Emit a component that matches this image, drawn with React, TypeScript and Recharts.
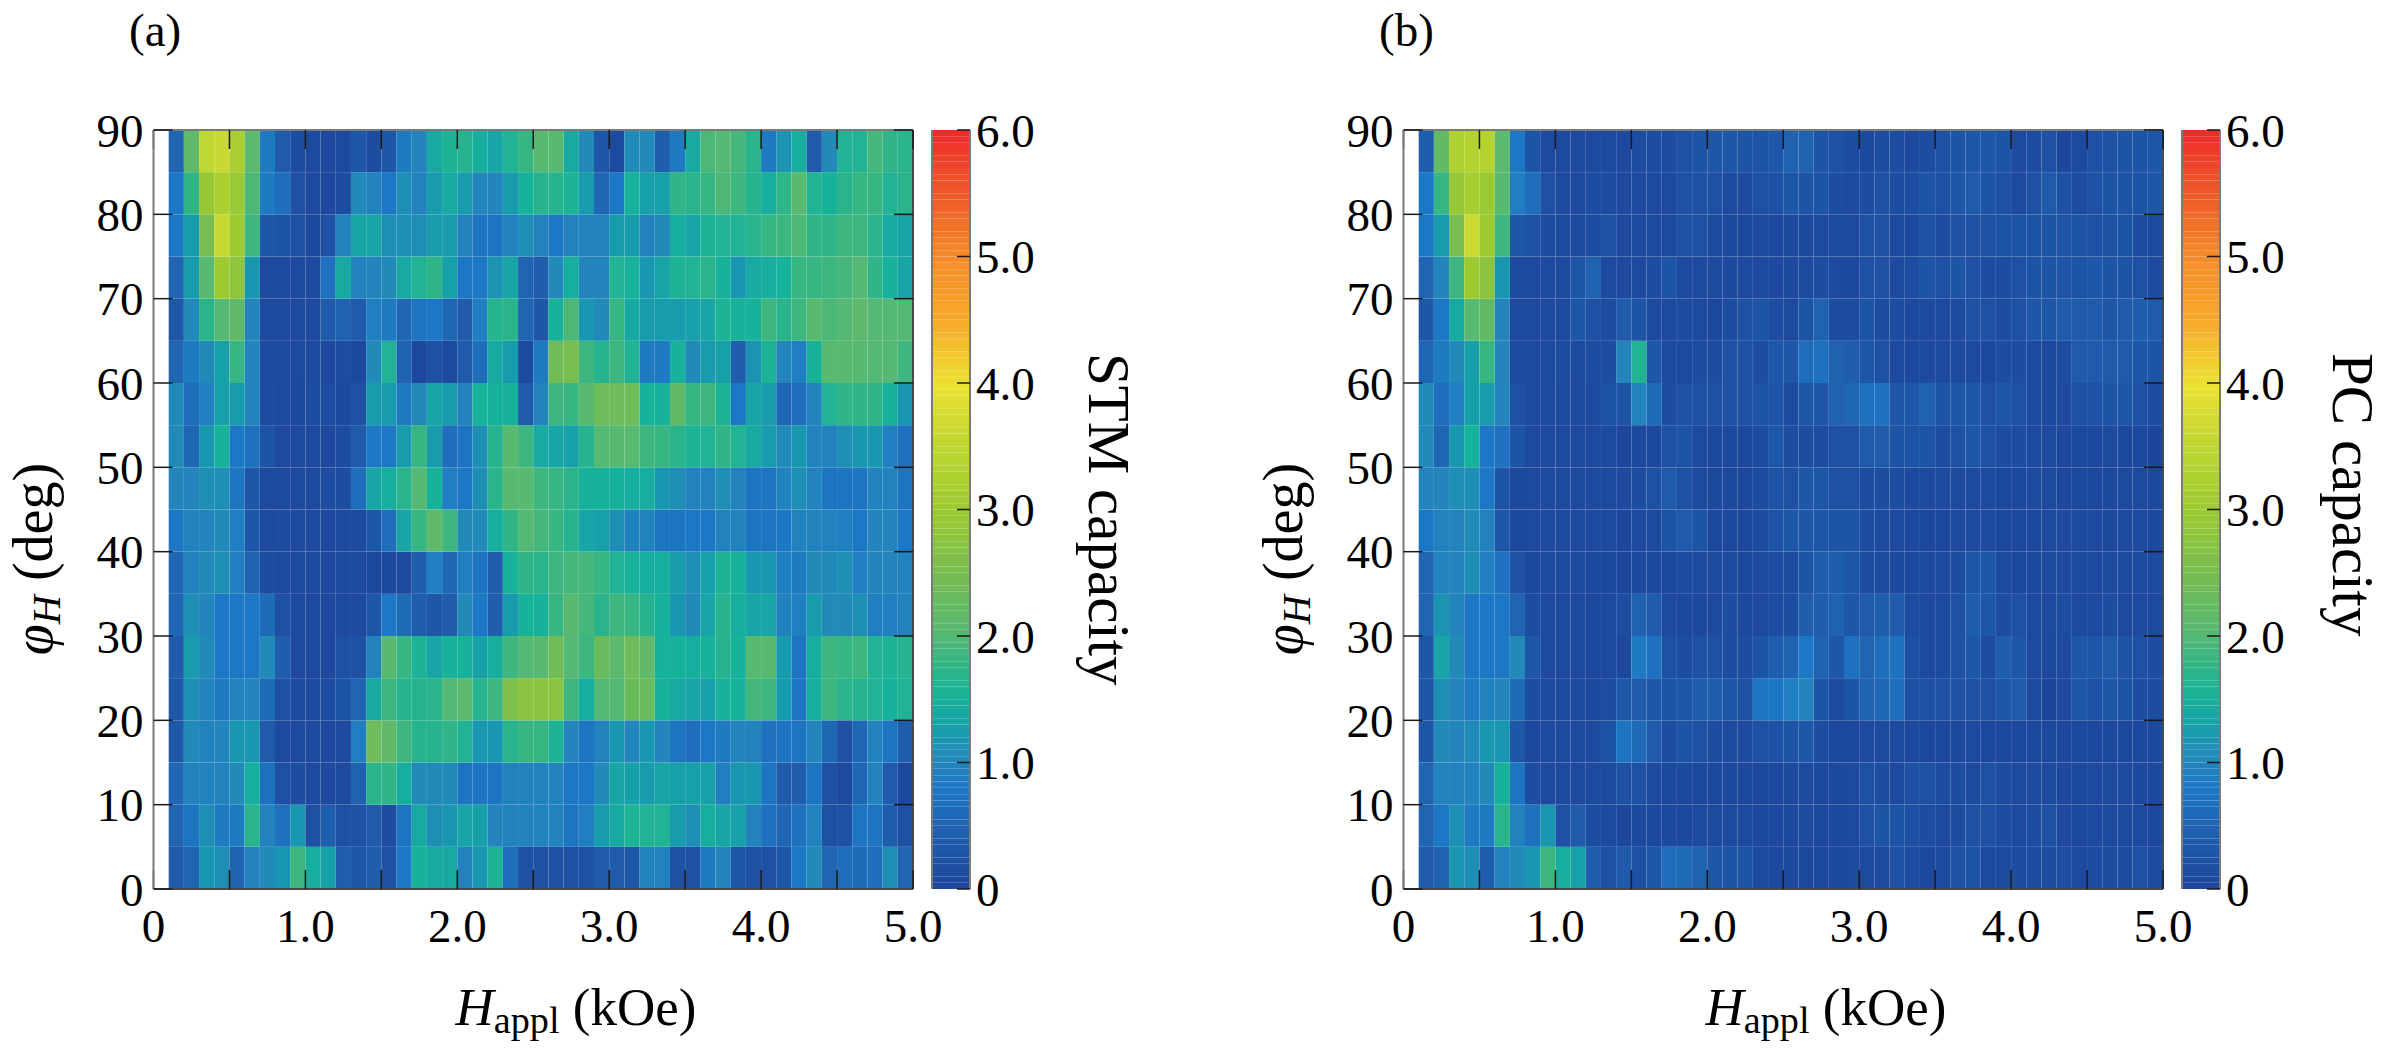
import React from 'react';
import { BarChart, Bar, XAxis, YAxis, Cell, ReferenceLine } from 'recharts';

// field bins, centre of each column (kOe)
const fieldBins = [
  0.15, 0.25, 0.35, 0.45, 0.55, 0.65, 0.75, 0.85, 0.95, 1.05, 1.15, 1.25, 1.35, 1.45, 1.55, 1.65, 1.75,
  1.85, 1.95, 2.05, 2.15, 2.25, 2.35, 2.45, 2.55, 2.65, 2.75, 2.85, 2.95, 3.05, 3.15, 3.25, 3.35, 3.45,
  3.55, 3.65, 3.75, 3.85, 3.95, 4.05, 4.15, 4.25, 4.35, 4.45, 4.55, 4.65, 4.75, 4.85, 4.95,
];
const angleBinHeight = 5;
const fieldTicks = [0, 0.5, 1, 1.5, 2, 2.5, 3, 3.5, 4, 4.5, 5];
const angleTicks = [0, 10, 20, 30, 40, 50, 60, 70, 80, 90];
const capacityTicks = [0, 1, 2, 3, 4, 5, 6];

// STM capacity, rows go from 0-5 deg up to 85-90 deg
const stm0 = [.35,.5,1.2,1.1,.45,.95,1.05,1.2,1.85,1.45,1.3,.4,.3,.4,.2,.8,1.5,1.4,1.4,.95,1.2,1.55,.65,.2,.2,.2,.2,.2,.35,.35,.3,.95,.95,.2,.2,.85,1,.3,.2,.2,.3,.8,1.05,.5,.65,.6,.65,1.1,.5];
const stm1 = [.5,.75,1.1,.85,.85,1.7,.95,.7,1.2,.2,.4,.2,.2,.35,.15,.75,1.4,1.1,1.2,1.35,1.3,1,.95,.95,.95,.95,.75,.9,1.25,1.4,1.55,1.6,1.6,1.25,1.1,1.45,1.35,1.3,.95,.7,.55,.7,.95,.2,.2,.75,.75,.4,.2];
const stm2 = [.55,.95,.95,.95,1.05,1.45,.7,.2,.15,.1,.1,.1,.45,1.7,1.75,1.45,1.05,1.05,1.05,.75,.75,.75,.95,.95,.95,.95,.8,.8,1.05,1.35,1.3,1.25,1.35,1.3,1.3,1.3,.9,1.2,1.2,.75,.35,.4,.75,.2,.1,.55,.95,.35,.05];
const stm3 = [.3,1.05,.95,1,1.2,1.2,.35,.1,.1,.1,.1,.1,.9,2.35,2.15,1.85,1.65,1.65,1.75,1.6,1.2,1.2,1.7,1.8,1.8,1.55,1,.75,.95,1.2,1,1.2,1,.75,.65,.8,.85,1,.95,.7,.75,.75,1,.55,.2,.55,.95,.75,.4];
const stm4 = [.3,1.1,1,.85,.95,1,.6,.2,.1,.1,.15,.25,.5,1.4,1.85,1.65,1.65,1.7,2,2.1,1.65,1.85,2.6,2.75,2.75,2.75,1.85,1.45,2,2,2.3,2.3,1.5,1.4,1.35,1.3,1.5,1.5,1.9,1.85,1.25,.75,1.45,1.85,1.7,1.65,1.6,1.5,1.6];
const stm5 = [.35,1.25,1.05,.8,.8,.8,1.05,.4,.1,.1,.1,.2,.2,.95,2.05,1.8,1.55,1.35,1.5,1.5,1.3,1.45,1.85,2,2.05,2.4,2,1.85,2.3,2.1,2.35,2.15,1.5,1.5,1.45,1.5,1.65,1.5,2.05,2.05,1.25,.75,1.45,1.85,1.8,1.85,1.6,1.55,1.65];
const stm6 = [.55,1.1,1,.8,.8,.8,.6,.2,.1,.1,.1,.1,.1,.3,.8,.6,.4,.3,.35,1.05,.8,.4,1.25,1.5,1.5,1.8,2.05,1.9,1.7,1.85,1.8,1.65,1.5,1.2,1.05,1.35,1.65,1.45,1.35,1.35,.95,.9,1.25,1.05,1.05,1.1,.9,.9,.95];
const stm7 = [.55,.95,1.05,1.1,.9,.45,.15,.1,.1,.1,.1,.1,.1,.05,.05,.1,.4,.9,.55,.9,.75,.4,1.5,1.75,1.7,1.85,1.9,1.9,1.8,1.6,1.5,1.45,1.45,1.25,1.1,1.3,1.55,1.5,1.2,1.2,.9,.85,1.05,1.05,1.1,.9,1,1,.95];
const stm8 = [.8,.95,1,1.05,.9,.3,.1,.15,.1,.1,.1,.1,.1,.3,.65,1.35,1.8,2.15,1.85,1.05,1.05,1.45,1.75,2,1.9,1.8,1.65,1.35,1.3,1.1,.95,.95,.75,.75,.8,.8,.95,.95,.75,.75,.8,.95,.95,.95,.9,.8,1,1,.8];
const stm9 = [1,1,1.1,1.1,.75,.3,.1,.1,.1,.1,.15,.15,.65,1.35,1.45,1.7,2,1.5,.9,.8,1.1,1.7,2.05,2.05,1.85,1.8,1.7,1.5,1.5,1.5,1.45,1.45,1.2,1.1,.95,.95,1.1,.95,.75,.75,.95,1.1,.95,.75,.75,.75,.95,.95,.75];
const stm10 = [1.05,.55,1.2,1.5,.8,.7,.25,.1,.1,.1,.1,.15,.35,.8,.8,1.25,1.8,1.25,.65,.75,1.1,1.65,2.05,1.85,1.4,1.35,1.3,1.65,2,2.05,2.05,1.85,1.8,1.7,1.55,1.6,1.75,1.6,1.4,1.25,1.05,1.2,.95,.95,1.1,1.2,1.2,.9,.7];
const stm11 = [1.05,.65,.9,1.3,1.25,1,.15,.1,.05,.15,.15,.05,.2,1.25,1.25,.85,1.05,1.35,1.25,.95,1.5,1.5,1.5,.35,.95,1.85,1.8,2.05,2.35,2.35,2.35,1.5,1.5,2.2,1.8,1.85,1.55,.8,1.35,1.25,.55,.65,1,1.6,1.75,1.75,1.75,1.5,1.2];
const stm12 = [.5,.85,1.05,1.3,1.8,1,.1,.1,.1,.1,.1,.15,.05,1.05,1.6,.45,.05,.2,.1,.35,.65,1.4,1.25,.1,.85,2.4,2.5,1.85,1.65,1.85,1.6,.85,.85,1.5,1.05,1.25,1.3,.4,1.15,1.55,1,.9,1.5,2.05,2.05,2.05,2,2,1.85];
const stm13 = [.3,1.05,1.7,2,2.15,1,.1,.1,.1,.1,.35,.45,.35,.9,.85,.55,.75,.8,.55,.35,.9,1.65,1.7,.5,.3,1.5,1.95,1.2,1.05,1.8,1.4,1.25,1.25,1.25,1.3,1.35,1.55,1.5,1.5,1.85,1.7,1.85,2.05,1.95,2,2.1,2,2,2];
const stm14 = [.5,1.25,2.05,3,2.8,1.2,.1,.1,.1,.1,.7,1.4,.95,1,1.05,1.4,1.6,1.75,1.3,.8,.8,1.15,1.35,.5,.4,1.05,1.45,1,1,1.6,1.5,1.2,1.35,1.55,1.6,1.7,1.5,1.2,1.4,1.45,1.5,1.8,1.8,1.85,1.9,2,1.75,1.5,1.35];
const stm15 = [.8,1.25,2.5,3.6,3,1.85,.3,.25,.2,.05,.2,.95,1.35,1.35,1.1,1.1,1.1,1.25,1.25,.95,.75,.75,.95,1.1,.95,.8,.95,.95,.95,1.25,1.25,.95,1.05,1.45,1.35,1.55,1.6,1.6,1.7,1.8,1.85,1.95,1.75,1.75,1.85,1.85,1.7,1.4,1.35];
const stm16 = [.8,1.75,2.9,3.2,2.95,1.95,.85,.65,.2,.1,.1,.15,1.05,.95,.8,1.1,.95,1.25,1.4,1.25,1,1,1.25,1.5,1.65,1.65,1.55,1.25,.55,.8,1.5,1.3,1.3,1.75,1.7,1.8,1.95,1.85,1.65,1.45,1.75,2.05,1.6,1.5,1.7,1.8,1.8,1.6,1.7];
const stm17 = [.5,2.15,3.5,3.6,3.2,2.1,.85,.35,.15,.1,.1,.1,.3,.15,.3,.85,1,1.4,1.55,1.65,1.45,1.35,1.6,1.8,2.05,2.05,1.4,1.05,.3,.1,1.05,1.05,.4,.85,1.4,1.95,2,1.9,1.7,.85,1.15,1.45,.35,1.05,1.6,1.6,1.9,1.75,1.7];
const stmRows = [stm0, stm1, stm2, stm3, stm4, stm5, stm6, stm7, stm8, stm9, stm10, stm11, stm12, stm13, stm14, stm15, stm16, stm17];

// PC capacity
const pc0 = [.35,.45,1.2,1.1,.4,.95,1.05,1.2,1.85,1.45,1.3,.4,.2,.35,.2,.3,.65,.6,.45,.3,.25,.25,.1,.05,.05,.05,.05,.05,.1,.1,.1,.2,.15,.05,.1,.2,.25,.1,.1,.15,.15,.15,.15,.1,.15,.15,.15,.2,.1];
const pc1 = [.5,.8,1.1,.85,.85,1.7,.95,.7,1.2,.2,.35,.15,.1,.05,.05,.05,.05,.05,.1,.1,.1,.1,.05,.1,.05,.1,.05,.05,.1,.2,.25,.25,.2,.15,.1,.15,.2,.2,.15,.1,.15,.2,.1,.05,.1,.1,.1,.1,.05];
const pc2 = [.5,.95,.95,.95,1.05,1.5,.75,.15,.1,.1,.1,.1,.1,.2,.2,.1,.05,.05,.05,.05,.05,.05,.05,.05,.05,.1,.05,.05,.1,.2,.15,.1,.2,.2,.15,.15,.1,.2,.15,.1,.1,.1,.05,.05,.1,.1,.1,.05,.05];
const pc3 = [.3,1.05,1,1.05,1.2,1.2,.3,.05,.1,.1,.1,.1,.25,.75,.6,.35,.15,.25,.2,.15,.1,.1,.2,.2,.25,.3,.15,.05,.05,.1,.1,.1,.05,.05,.05,.05,.1,.05,.05,.05,.05,.05,.05,.05,.05,.05,.05,.05,.05];
const pc4 = [.3,1.1,1,.85,.95,1,.6,.15,.1,.1,.1,.05,.15,.3,.35,.3,.25,.3,.4,.4,.3,.2,.75,.8,.9,1,.25,.1,.25,.45,.55,.65,.2,.2,.2,.2,.2,.2,.3,.35,.1,0,.1,.3,.2,.3,.25,.15,.15];
const pc5 = [.3,1.35,1.05,.8,.8,.8,1.05,.3,.1,.1,.1,.05,.1,.05,.85,.7,.2,.15,.2,.2,.15,.15,.25,.4,.45,.8,.45,.3,.7,.5,.65,.7,.2,.1,.1,.2,.3,.15,.4,.3,.1,.05,.1,.3,.3,.35,.25,.2,.15];
const pc6 = [.5,1.15,1,.8,.8,.8,.5,.15,.1,.1,.1,.05,.1,.15,.45,.35,.1,.05,.05,.1,.15,.05,.1,.15,.15,.4,.4,.45,.3,.35,.4,.35,.15,.1,.1,.2,.4,.3,.15,.2,.1,.1,.15,.1,.1,.15,.1,.1,.1];
const pc7 = [.5,.95,1,1.1,.9,.7,.2,.05,.1,.1,.1,.05,.05,.05,.05,.05,.05,.15,.1,.1,.1,.05,.1,.15,.15,.25,.4,.4,.3,.15,.1,.05,.1,.1,.1,.15,.3,.3,.1,.05,.05,.1,.1,.1,.1,.1,.1,.1,.1];
const pc8 = [.8,.95,1,1.05,.95,.3,.05,.1,.1,.1,.1,.1,.1,.05,.1,.1,.25,.35,.25,.05,.05,.05,.15,.25,.3,.3,.3,.25,.25,.15,.1,.1,.05,.05,.05,.1,.1,.1,.05,.05,.05,.1,.1,.1,.1,.05,.1,.1,.05];
const pc9 = [1,1,1.1,1.1,.8,.25,.05,.1,.1,.1,.1,.1,.1,.1,.15,.2,.35,.2,.1,.05,.05,.05,.15,.25,.2,.3,.3,.2,.2,.15,.15,.15,.1,.1,.1,.1,.1,.1,.05,.05,.1,.1,.05,.05,.05,.05,.1,.1,.05];
const pc10 = [1.05,.55,1.2,1.5,.8,.7,.25,.1,.1,.1,.1,.1,.1,.05,.05,.05,.2,.25,.1,.05,.05,.05,.15,.3,.15,.15,.15,.2,.2,.35,.35,.25,.25,.25,.15,.2,.3,.2,.15,.15,.1,.1,.05,.05,.05,.1,.05,.05,0];
const pc11 = [1.05,.65,.9,1.3,1.25,1,.2,.1,.1,.1,.1,.1,.25,.25,1,.6,.15,.2,.2,.2,.2,.2,.25,.25,.1,.3,.3,.45,.55,.7,.7,.3,.3,.45,.25,.3,.3,.2,.3,.2,.1,.05,.1,.2,.2,.25,.3,.2,.15];
const pc12 = [.55,.85,1.05,1.3,1.8,1,.1,.1,.1,.15,.1,.15,.15,1,1.6,.3,.1,.1,.15,.15,.2,.2,.15,.3,.3,.65,.7,.45,.4,.3,.2,.1,.1,.1,.1,.1,.1,.05,.15,.15,.1,.05,.15,.35,.35,.35,.35,.3,.25];
const pc13 = [.3,.8,1.4,2.05,2.2,1,.1,.1,.1,.1,.3,.2,.15,.35,.25,.1,.1,.15,.1,.05,.15,.2,.25,.15,.1,.25,.45,.15,.15,.25,.15,.15,.1,.1,.1,.1,.2,.2,.15,.2,.3,.3,.35,.35,.35,.3,.35,.4,.35];
const pc14 = [.5,1,1.85,3,2.75,1.2,.1,.1,.1,.1,.3,.45,.1,.1,.1,.15,.25,.1,.1,.1,.05,.1,.1,.1,.05,.1,.15,.1,.05,.2,.2,.1,.15,.25,.2,.25,.2,.15,.15,.2,.25,.25,.25,.25,.3,.25,.25,.2,.1];
const pc15 = [.8,1.25,2.5,3.6,3,1.85,.3,.2,.15,.1,.1,.15,.2,.1,.1,.1,.1,.2,.2,.1,.05,.05,.1,.1,.05,.05,.1,.1,.1,.2,.2,.1,.1,.2,.15,.2,.2,.2,.25,.25,.25,.25,.25,.25,.2,.2,.25,.15,.1];
const pc16 = [.8,1.8,2.9,3.15,2.95,2.05,.9,.65,.2,.1,.1,.15,.15,.1,.1,.1,.1,.2,.2,.2,.1,.1,.2,.2,.3,.25,.25,.15,.1,.15,.2,.15,.15,.25,.2,.3,.35,.25,.2,.1,.2,.35,.2,.15,.2,.25,.25,.25,.3];
const pc17 = [.4,2.2,3.25,3.35,3.35,2.1,.8,.25,.1,.1,.1,.1,.1,.1,.15,.15,.15,.2,.25,.3,.3,.25,.25,.3,.45,.45,.25,.2,.15,.05,.15,.15,.1,.15,.2,.25,.3,.3,.25,.1,.15,.2,.05,.1,.2,.2,.25,.25,.3];
const pcRows = [pc0, pc1, pc2, pc3, pc4, pc5, pc6, pc7, pc8, pc9, pc10, pc11, pc12, pc13, pc14, pc15, pc16, pc17];

// levels of the colour bar, one band per level
const barLevels = [
  .025,.075,.125,.175,.225,.275,.325,.375,.425,.475,.525,.575,.625,.675,.725,.775,.825,.875,.925,.975,
  1.025,1.075,1.125,1.175,1.225,1.275,1.325,1.375,1.425,1.475,1.525,1.575,1.625,1.675,1.725,1.775,1.825,1.875,1.925,1.975,
  2.025,2.075,2.125,2.175,2.225,2.275,2.325,2.375,2.425,2.475,2.525,2.575,2.625,2.675,2.725,2.775,2.825,2.875,2.925,2.975,
  3.025,3.075,3.125,3.175,3.225,3.275,3.325,3.375,3.425,3.475,3.525,3.575,3.625,3.675,3.725,3.775,3.825,3.875,3.925,3.975,
  4.025,4.075,4.125,4.175,4.225,4.275,4.325,4.375,4.425,4.475,4.525,4.575,4.625,4.675,4.725,4.775,4.825,4.875,4.925,4.975,
  5.025,5.075,5.125,5.175,5.225,5.275,5.325,5.375,5.425,5.475,5.525,5.575,5.625,5.675,5.725,5.775,5.825,5.875,5.925,5.975,
];
const barBandHeight = 0.05;

const colorStops: [number, number[]][] = [
  [0, [0x1b, 0x46, 0x9c]], [0.1, [0x1d, 0x4a, 0x9e]], [0.5, [0x20, 0x64, 0xb2]], [0.8, [0x1c, 0x78, 0xc4]],
  [1, [0x23, 0x85, 0xbb]], [1.25, [0x18, 0x9c, 0xad]], [1.5, [0x17, 0xb2, 0x9a]], [1.75, [0x2f, 0xb5, 0x88]],
  [2, [0x55, 0xb8, 0x74]], [2.5, [0x78, 0xbd, 0x50]], [3, [0x9d, 0xca, 0x30]], [3.5, [0xbe, 0xd7, 0x32]],
  [4, [0xec, 0xe0, 0x30]], [4.5, [0xf7, 0xa8, 0x2a]], [5, [0xf5, 0x8a, 0x2a]], [5.5, [0xee, 0x5a, 0x28]],
  [6, [0xee, 0x2a, 0x2a]],
];

const getColor = (value: number) => {
  for (let i = 1; i < colorStops.length; i++) {
    const [v1, c1] = colorStops[i];
    if (value <= v1) {
      const [v0, c0] = colorStops[i - 1];
      const t = (value - v0) / (v1 - v0);
      const mix = c0.map((c, k) => Math.round(c + (c1[k] - c) * t));
      return `rgb(${mix[0]},${mix[1]},${mix[2]})`;
    }
  }
  return 'rgb(238,42,42)';
};

const serif = '"Liberation Serif", serif';
const frame = '#7a7a7a';
const darkFrame = '#4a4a4a';
const tickStroke = '#1a1a1a';
// inner tick length in axis units, about 19px on both axes
const fieldTickLen = 0.125;
const angleTickLen = 2.25;

const formatField = (v: number) => {
  if (v === 0) return '0';
  return Number.isInteger(v) ? v.toFixed(1) : '';
};
const formatCapacity = (v: number) => (v === 0 ? '0' : v.toFixed(1));

const heatData = fieldBins.map((field) => {
  const row: Record<string, number> = { field };
  stmRows.forEach((_, r) => {
    row[`r${r}`] = angleBinHeight;
  });
  return row;
});
const barData = [
  barLevels.reduce<Record<string, number | string>>(
    (acc, _, i) => {
      acc[`l${i}`] = barBandHeight;
      return acc;
    },
    { name: 'scale' }
  ),
];

const HeatChart = ({ rows }: { rows: number[][] }) => (
  <BarChart
    width={953}
    height={1050}
    data={heatData}
    barSize={15.18}
    barGap={0}
    barCategoryGap={0}
    margin={{ top: 130, right: 40, bottom: 101, left: 53.5 }}
  >
    {rows.map((values, r) => (
      <Bar key={r} dataKey={`r${r}`} stackId="heat" isAnimationActive={false}>
        {values.map((v, c) => (
          <Cell key={c} fill={getColor(v)} />
        ))}
      </Bar>
    ))}
    <XAxis
      type="number"
      dataKey="field"
      domain={[0, 5]}
      ticks={fieldTicks}
      interval={0}
      height={60}
      tickFormatter={formatField}
      tickSize={-19}
      tickMargin={39}
      axisLine={{ stroke: darkFrame, strokeWidth: 2 }}
      tickLine={{ stroke: tickStroke, strokeWidth: 1.5 }}
      tick={{ fontSize: 47, fontFamily: serif, fill: '#000' }}
    />
    <YAxis
      type="number"
      domain={[0, 90]}
      ticks={angleTicks}
      interval={0}
      width={100}
      tickSize={-19}
      tickMargin={29}
      axisLine={{ stroke: frame, strokeWidth: 2 }}
      tickLine={{ stroke: tickStroke, strokeWidth: 1.5 }}
      tick={{ fontSize: 47, fontFamily: serif, fill: '#000' }}
    />
    <ReferenceLine y={90} stroke={frame} strokeWidth={2} />
    <ReferenceLine x={5} stroke={darkFrame} strokeWidth={2} />
    {fieldTicks.map((t) => (
      <ReferenceLine
        key={`top-${t}`}
        segment={[{ x: t, y: 90 }, { x: t, y: 90 - angleTickLen }]}
        stroke={tickStroke}
        strokeWidth={1.5}
      />
    ))}
    {angleTicks.map((t) => (
      <ReferenceLine
        key={`right-${t}`}
        segment={[{ x: 5, y: t }, { x: 5 - fieldTickLen, y: t }]}
        stroke={tickStroke}
        strokeWidth={1.5}
      />
    ))}
  </BarChart>
);

const ColorBar = () => (
  <BarChart
    width={141}
    height={1050}
    data={barData}
    barCategoryGap={0}
    margin={{ top: 130, right: 0, bottom: 161, left: 1 }}
  >
    {barLevels.map((level, i) => (
      <Bar key={i} dataKey={`l${i}`} stackId="scale" fill={getColor(level)} isAnimationActive={false} />
    ))}
    <XAxis type="category" dataKey="name" hide />
    <YAxis
      orientation="right"
      type="number"
      domain={[0, 6]}
      ticks={capacityTicks}
      interval={0}
      width={102}
      tickFormatter={formatCapacity}
      tickSize={-13}
      tickMargin={19}
      axisLine={{ stroke: frame, strokeWidth: 2 }}
      tickLine={{ stroke: tickStroke, strokeWidth: 1.5 }}
      tick={{ fontSize: 47, fontFamily: serif, fill: '#000' }}
    />
  </BarChart>
);

// second chart laid over the colour bar, it only carries the left axis with its inner ticks
const ColorBarLeftAxis = () => (
  <BarChart
    width={141}
    height={1050}
    data={barData}
    margin={{ top: 130, right: 101, bottom: 161, left: 0 }}
  >
    <Bar dataKey="guide" fill="none" isAnimationActive={false} />
    <XAxis type="category" dataKey="name" hide />
    <YAxis
      type="number"
      domain={[0, 6]}
      ticks={capacityTicks}
      interval={0}
      width={1}
      tick={false}
      tickSize={-13}
      axisLine={{ stroke: frame, strokeWidth: 2 }}
      tickLine={{ stroke: tickStroke, strokeWidth: 1.5 }}
    />
  </BarChart>
);

const textStyle: React.CSSProperties = {
  position: 'absolute',
  fontFamily: serif,
  fontSize: 47,
  lineHeight: '50px',
  color: '#000',
  whiteSpace: 'nowrap',
};
const subStyle: React.CSSProperties = { fontSize: '0.72em', verticalAlign: '-8px', lineHeight: 0 };

const Panel = ({ left, tag, rows, capacity, capacityX }: { left: number; tag: string; rows: number[][]; capacity: string; capacityX: number }) => (
  <>
    <div style={{ position: 'absolute', left, top: 0 }}>
      <HeatChart rows={rows} />
    </div>
    <div style={{ position: 'absolute', left: left + 931, top: 0 }}>
      <ColorBar />
    </div>
    <div style={{ position: 'absolute', left: left + 931, top: 0 }}>
      <ColorBarLeftAxis />
    </div>
    <div style={{ ...textStyle, left: left + 129, top: 5 }}>{tag}</div>
    <div style={{ ...textStyle, fontSize: 53, left: left + 576, top: 982, transform: 'translateX(-50%)' }}>
      <i>H</i>
      <span style={subStyle}>appl</span> (kOe)
    </div>
    <div
      style={{
        ...textStyle,
        fontSize: 56,
        left: left + 33,
        top: 559,
        transform: 'translate(-50%, -50%) rotate(-90deg)',
      }}
    >
      <i>φ</i>
      <i style={subStyle}>H</i> (deg)
    </div>
    <div
      style={{
        ...textStyle,
        fontSize: 59,
        left: capacityX,
        top: 353,
        transformOrigin: '0 0',
        transform: 'rotate(90deg) translateY(-50%)',
      }}
    >
      {capacity} capacity
    </div>
  </>
);

export default function App() {
  return (
    <div style={{ position: 'absolute', left: 0, top: 0, width: 2388, height: 1050, background: '#fff', overflow: 'hidden' }}>
      <Panel left={0} tag="(a)" rows={stmRows} capacity="STM" capacityX={1109} />
      <Panel left={1250} tag="(b)" rows={pcRows} capacity="PC" capacityX={2353} />
    </div>
  );
}
